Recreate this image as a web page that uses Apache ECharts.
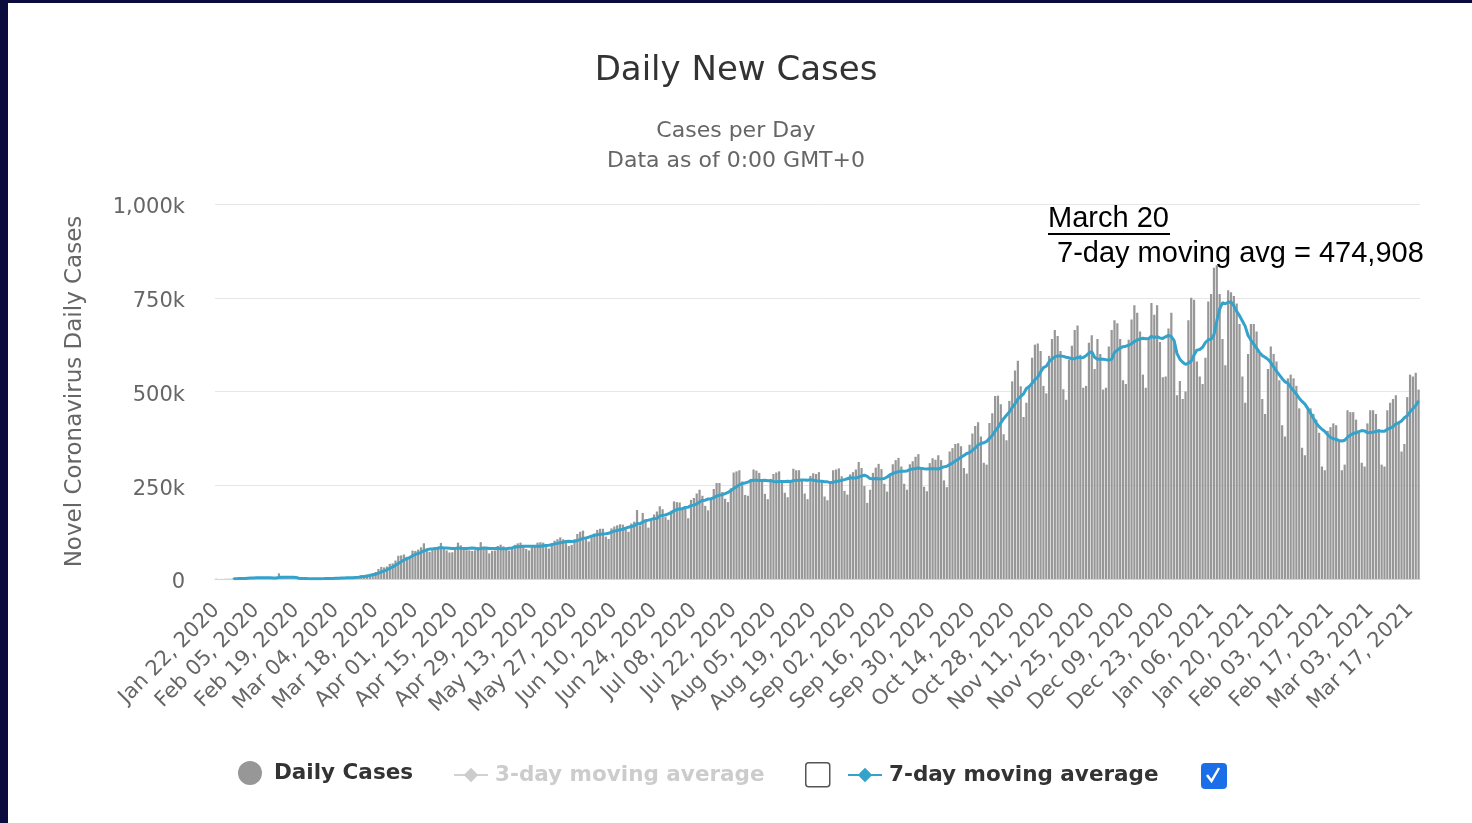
<!DOCTYPE html>
<html>
<head>
<meta charset="utf-8">
<script src="https://cdn.jsdelivr.net/npm/echarts@6/dist/echarts.min.js"></script>
<style>
html,body{margin:0;padding:0;background:#fff;}
#chart{position:absolute;left:0;top:0;width:1472px;height:823px;background:#fff;}
.edge{position:absolute;background:#0b0b3d;pointer-events:none;}
</style>
</head>
<body>
<div id="chart"></div>
<div class="edge" style="left:0;top:0;width:8px;height:823px;"></div>
<div class="edge" style="left:0;top:0;width:1472px;height:3px;"></div>
<script>
// ---- data (values in thousands of cases) ----
const startDate = '2020-01-22';
const dayCount = 424;
const dailyCases = [
  0.6,0.1,0.3,0.5,0.7,0.8,2.7,
  0.6,2.1,1.7,2.1,4.7,3.1,4.0,
  3.7,3.2,3.4,2.6,2.8,2.5,2.0,
  1.8,15.1,6.5,2.1,2.1,1.9,1.8,
  0.4,0.5,1.0,1.0,0.6,0.6,0.9,
  0.8,1.2,1.3,1.7,1.8,2.0,2.5,
  2.3,2.8,4.0,3.8,4.0,3.9,4.5,
  7.2,7.5,10.7,10.8,11.3,13.9,15.9,
  18.6,26.8,32.2,30.9,33.3,40.5,41.7,
  49.2,62.0,63.0,65.3,59.1,59.0,75.8,
  74.9,78.5,84.6,95.2,76.9,72.0,76.8,
  83.9,86.3,96.2,85.4,76.2,70.7,71.3,
  82.7,97.0,89.6,81.5,76.7,76.4,74.6,
  76.7,84.8,98.3,86.7,81.0,68.3,75.2,
  76,88,91.5,87,80,76,82,
  91,95,97,89,80,76,85,
  88,97,98,97,85,81,96,
  102,106,111,106,97,88,91,
  106,120,126,129,108,100,112,
  121,131,134,134,113,107,135,
  140,143,146,145,132,126,148,
  153,184,143,176,158,137,161,
  172,180,194,186,165,158,182,
  207,205,204,191,190,162,211,
  216,228,238,222,195,183,213,
  240,256,256,232,214,205,242,
  284,287,290,260,224,222,267,
  292,289,283,263,227,213,267,
  280,284,287,260,230,218,262,
  294,290,290,265,228,213,275,
  282,280,285,262,220,210,260,
  290,292,295,274,235,225,279,
  285,292,312,296,248,203,238,
  283,297,307,293,254,233,279,
  306,317,323,300,254,238,306,
  314,326,333,294,246,234,309,
  322,318,330,317,263,245,340,
  349,360,362,354,296,281,358,
  388,408,418,380,310,305,416,
  442,488,489,466,386,370,475,
  527,556,582,514,432,470,510,
  590,625,628,608,515,495,595,
  640,664,648,608,506,478,585,
  622,664,676,598,510,515,630,
  650,560,640,600,505,510,620,
  664,690,682,640,530,520,638,
  692,730,710,660,545,510,640,
  736,705,730,632,538,540,668,
  710,630,490,528,480,500,690,
  750,745,580,540,520,590,740,
  760,830,837,760,640,570,770,
  765,755,735,680,540,470,600,
  680,680,660,600,480,440,560,
  620,600,580,530,410,380,535,
  545,535,515,455,350,330,455,
  455,440,425,390,300,290,395,
  405,415,410,370,290,305,450,
  445,445,425,390,310,300,415,
  450,450,440,400,305,300,450,
  470,480,490,420,340,360,485,
  545,540,550,505
];
const yTicks = [0, 250, 500, 750, 1000];
const annotationTitle = 'March 20';
const annotationText = '7-day moving avg = 474,908';

// ---- derived ----
const monthNames = ['Jan','Feb','Mar','Apr','May','Jun','Jul','Aug','Sep','Oct','Nov','Dec'];
const categories = [];
(function(){
  const d0 = new Date(startDate + 'T00:00:00Z');
  for (let i = 0; i < dayCount; i++) {
    const d = new Date(d0.getTime() + i * 86400000);
    const dd = String(d.getUTCDate()).padStart(2, '0');
    categories.push(monthNames[d.getUTCMonth()] + ' ' + dd + ', ' + d.getUTCFullYear());
  }
})();
const avg7 = dailyCases.map((v, i) => {
  if (i < 6) return null;
  let s = 0;
  for (let k = i - 6; k <= i; k++) s += dailyCases[k];
  return +(s / 7).toFixed(2);
});

const FONT = 'DejaVu Sans';
const chart = echarts.init(document.getElementById('chart'), null, {renderer: 'canvas'});
chart.setOption({
  animation: false,
  backgroundColor: '#ffffff',
  title: {
    left: 'center', top: 49,
    text: 'Daily New Cases',
    textStyle: {fontFamily: FONT, fontSize: 34, fontWeight: 'normal', color: '#333333'},
    subtext: 'Cases per Day\nData as of 0:00 GMT+0',
    subtextStyle: {fontFamily: FONT, fontSize: 22, color: '#666666', lineHeight: 30},
    itemGap: 28
  },
  grid: {left: 215, right: 52, top: 204, bottom: 244},
  xAxis: {
    type: 'category',
    data: categories,
    boundaryGap: true,
    axisLine: {lineStyle: {color: '#ccd6eb', width: 1}},
    axisTick: {show: false},
    axisLabel: {
      interval: 13, rotate: 45, margin: 28,
      fontFamily: FONT, fontSize: 21, color: '#666666'
    }
  },
  yAxis: {
    type: 'value', min: yTicks[0], max: yTicks[yTicks.length - 1], interval: 250,
    name: 'Novel Coronavirus Daily Cases',
    nameLocation: 'middle', nameRotate: 90, nameGap: 128,
    nameTextStyle: {fontFamily: FONT, fontSize: 23, color: '#666666'},
    axisLine: {show: false}, axisTick: {show: false},
    axisLabel: {
      margin: 30,
      formatter: v => '{v|' + (v === 0 ? '0' : v.toLocaleString('en-US') + 'k') + '}',
      rich: {v: {fontFamily: FONT, fontSize: 21, color: '#666666', padding: [8, 0, 0, 0]}}
    },
    splitLine: {lineStyle: {color: '#e6e6e6', width: 1}}
  },
  legend: [
    {
      data: ['Daily Cases'], left: 233, top: 756, icon: 'circle',
      itemWidth: 24, itemHeight: 24,
      textStyle: {fontFamily: FONT, fontSize: 21.5, fontWeight: 'bold', color: '#333333', padding: [0, 0, 0, 7]}
    },
    {
      data: ['3-day moving average'], left: 448, top: 759,
      itemWidth: 34, itemHeight: 18, inactiveColor: '#cccccc',
      selected: {'3-day moving average': false},
      textStyle: {fontFamily: FONT, fontSize: 21.5, fontWeight: 'bold', color: '#cccccc', padding: [0, 0, 0, 2]}
    },
    {
      data: ['7-day moving average'], left: 842, top: 759,
      itemWidth: 34, itemHeight: 18,
      textStyle: {fontFamily: FONT, fontSize: 21.5, fontWeight: 'bold', color: '#333333', padding: [0, 0, 0, 2]}
    }
  ],
  series: [
    {
      name: 'Daily Cases', type: 'bar', data: dailyCases,
      barCategoryGap: '22%',
      itemStyle: {color: '#979797'}
    },
    {
      name: '3-day moving average', type: 'line', data: [],
      symbol: 'diamond', symbolSize: 12, showSymbol: false,
      itemStyle: {color: '#cccccc'}, lineStyle: {color: '#cccccc', width: 3}
    },
    {
      name: '7-day moving average', type: 'line', data: avg7,
      symbol: 'diamond', symbolSize: 12, showSymbol: false,
      connectNulls: false,
      itemStyle: {color: '#33a3cc'}, lineStyle: {color: '#33a3cc', width: 3}
    }
  ],
  graphic: [
    {type: 'rect', left: 805, top: 762, shape: {width: 24, height: 24, r: 3},
     style: {fill: '#ffffff', stroke: '#555555', lineWidth: 1.5}},
    {type: 'rect', left: 1201, top: 763, shape: {width: 25, height: 25, r: 3},
     style: {fill: '#1a6fe8', stroke: '#1a6fe8'}},
    {type: 'polyline', shape: {points: [[1207, 775], [1211.5, 781], [1219, 768]]},
     style: {stroke: '#ffffff', lineWidth: 2.5, fill: null}},
    {type: 'text', left: 1048, top: 204,
     style: {text: annotationTitle, font: '29px "Liberation Sans", Arial, sans-serif', fill: '#000000'}},
    {type: 'line', shape: {x1: 1048, y1: 234, x2: 1170, y2: 234},
     style: {stroke: '#000000', lineWidth: 2}},
    {type: 'text', left: 1057, top: 239,
     style: {text: annotationText, font: '29px "Liberation Sans", Arial, sans-serif', fill: '#000000'}}
  ]
});
</script>
</body>
</html>
